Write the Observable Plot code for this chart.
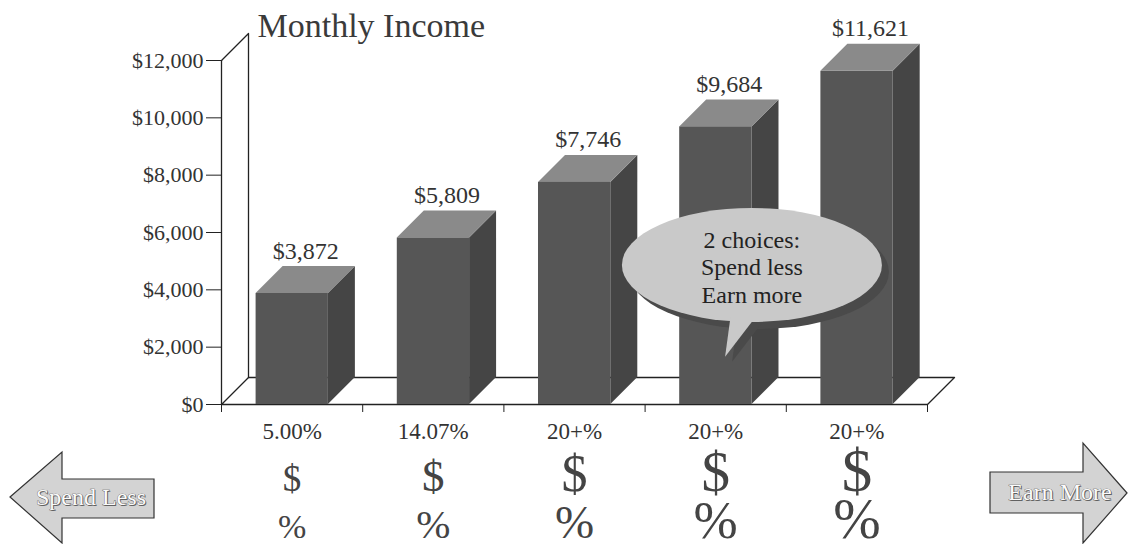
<!DOCTYPE html>
<html>
<head>
<meta charset="utf-8">
<script src="https://cdn.jsdelivr.net/npm/d3@7"></script>
<script src="https://cdn.jsdelivr.net/npm/@observablehq/plot@0.6"></script>
<style>
  html, body { margin: 0; padding: 0; background: #fff; }
  #chart svg { display: block; }
</style>
</head>
<body>
<div id="chart"></div>
<script>
// ---- data ----
const categories = ["5.00%", "14.07%", "20+%", "20+%", "20+%"];
const income = [3872, 5809, 7746, 9684, 11621];
const yTicks = [0, 2000, 4000, 6000, 8000, 10000, 12000];
const titleText = "Monthly Income";
const bubbleLines = ["2 choices:", "Spend less", "Earn more"];
const arrowLabels = ["Spend Less", "Earn More"];
const dollarRow = ["$", "$", "$", "$", "$"];
const percentRow = ["%", "%", "%", "%", "%"];

// ---- style constants ----
const W = 1128, H = 544;
const M = {left: 221, right: 201, top: 60, bottom: 140};
const yMax = 12000;
const depthPx = 27;
const bandPx = (W - M.left - M.right) / categories.length;
const DX = depthPx / bandPx;                       // depth in x units
const DY = depthPx * yMax / (H - M.top - M.bottom); // depth in y units
const barOffset = 0.245, barWidth = 0.512;
const dollarSizes = [37, 45, 52, 57, 61];
const percentSizes = [34, 41, 47, 53, 57];
const font = "'Liberation Serif', 'Times New Roman', serif";
const frontFill = "#565656", sideFill = "#454545", topFill = "#8a8a8a";
const ink = "#333";
const fmt = d3.format("$,");

const data = income.map((value, i) => ({i, cat: categories[i], value}));

const sideData = data.flatMap(d => [
  {i: d.i, x: d.i + barOffset + barWidth, y1: 0, y2: d.value},
  {i: d.i, x: d.i + barOffset + barWidth + DX, y1: DY, y2: d.value + DY}
]);
const topData = data.flatMap(d => [
  {i: d.i, y: d.value, x1: d.i + barOffset, x2: d.i + barOffset + barWidth},
  {i: d.i, y: d.value + DY, x1: d.i + barOffset + DX, x2: d.i + barOffset + barWidth + DX}
]);
const n = categories.length;
const floor = [
  {x: 0, y: 0}, {x: n, y: 0}, {x: n + DX, y: DY}, {x: DX, y: DY}, {x: 0, y: 0}
];
const wall = [{x: 0, y: yMax}, {x: DX, y: yMax + DY}, {x: DX, y: DY}];

// speech bubble anchored in data space (pointing at the 4th bar)
const bubbleAt = {x: 3.76, y: 4850};
const tipAt = {x: 3.57, y: 1650};

function bubbleMark(index, scales) {
  const cx = scales.x(bubbleAt.x), cy = scales.y(bubbleAt.y);
  const tx = scales.x(tipAt.x), ty = scales.y(tipAt.y);
  const rx = 130, ry = 57;
  const g = d3.create("svg:g");
  const tail = (ox, oy) =>
    `M${cx - 21 + ox},${cy + ry - 8 + oy} L${tx + ox},${ty + oy} L${cx + 6 + ox},${cy + ry - 8 + oy} Z`;
  const sh = 7;
  g.append("ellipse").attr("cx", cx + sh).attr("cy", cy + sh).attr("rx", rx).attr("ry", ry).attr("fill", "#4a4a4a");
  g.append("path").attr("d", tail(sh, sh - 2)).attr("fill", "#4a4a4a");
  g.append("ellipse").attr("cx", cx).attr("cy", cy).attr("rx", rx).attr("ry", ry).attr("fill", "#c9c9c9");
  g.append("path").attr("d", tail(0, 0)).attr("fill", "#c9c9c9");
  const t = g.append("text").attr("text-anchor", "middle").attr("font-family", font)
    .attr("font-size", 24).attr("fill", "#222");
  bubbleLines.forEach((line, k) => {
    t.append("tspan").attr("x", cx).attr("y", cy - 17 + k * 27.5).text(line);
  });
  return g.node();
}

function arrowMark(index, scales, values, dims) {
  const g = d3.create("svg:g");
  const w = dims.width;
  const shapes = [
    {label: arrowLabels[0], pts: [[10,497],[62,452],[62,479],[154,479],[154,518],[62,518],[62,543]], tx: 91, ty: 505},
    {label: arrowLabels[1], pts: [[w-1,493],[w-45,443],[w-45,472],[w-138,472],[w-138,513],[w-45,513],[w-45,543]], tx: w-68, ty: 500}
  ];
  for (const s of shapes) {
    g.append("path").attr("d", "M" + s.pts.join("L") + "Z")
      .attr("fill", "#d3d3d3").attr("stroke", "#333").attr("stroke-width", 1.2).attr("stroke-linejoin", "miter");
    g.append("text").attr("x", s.tx + 1).attr("y", s.ty + 1).attr("text-anchor", "middle")
      .attr("font-family", font).attr("font-size", 24).attr("fill", "#666").text(s.label);
    g.append("text").attr("x", s.tx).attr("y", s.ty).attr("text-anchor", "middle")
      .attr("font-family", font).attr("font-size", 24).attr("fill", "#fbfbfb")
      .attr("stroke", "#555").attr("stroke-width", 0.7).attr("paint-order", "stroke").text(s.label);
  }
  return g.node();
}

const chart = Plot.plot({
  width: W,
  height: H,
  marginLeft: M.left,
  marginRight: M.right,
  marginTop: M.top,
  marginBottom: M.bottom,
  x: {type: "linear", domain: [0, n]},
  y: {type: "linear", domain: [0, yMax]},
  style: {fontFamily: font, background: "#fff", color: ink, overflow: "visible"},
  marks: [
    // floor and back wall
    Plot.line(floor, {x: "x", y: "y", fill: "#fff", stroke: "#222", strokeWidth: 1.3}),
    Plot.line(wall, {x: "x", y: "y", stroke: "#222", strokeWidth: 1.3}),
    Plot.ruleX([0], {y1: 0, y2: yMax, stroke: "#222", strokeWidth: 1.3}),
    // 3D bars
    Plot.areaY(sideData, {x: "x", y1: "y1", y2: "y2", z: "i", fill: sideFill}),
    Plot.areaX(topData, {y: "y", x1: "x1", x2: "x2", z: "i", fill: topFill}),
    Plot.rect(data, {
      x1: d => d.i + barOffset, x2: d => d.i + barOffset + barWidth,
      y1: 0, y2: "value", fill: frontFill
    }),
    // value labels
    Plot.text(data, {
      x: d => d.i + barOffset + (barWidth + DX) / 2,
      y: d => d.value + DY,
      text: d => fmt(d.value),
      lineAnchor: "bottom", dy: -8, fontSize: 24, fill: ink
    }),
    // axes
    Plot.axisY({ticks: yTicks, tickSize: 15, tickPadding: 3, tickFormat: fmt, fontSize: 22, stroke: "#222", fill: ink}),
    Plot.axisX({ticks: d3.range(n + 1), tickSize: 8, tickFormat: () => "", stroke: "#222"}),
    Plot.axisX({ticks: d3.range(n).map(i => i + 0.5), tickSize: 0, tickPadding: 18,
      tickFormat: v => categories[Math.floor(v)], fontSize: 23, fill: ink}),
    // title
    Plot.text([titleText], {frameAnchor: "top-left", textAnchor: "start", lineAnchor: "bottom",
      dx: 36, dy: -24, fontSize: 34, fill: "#3a3a3a"}),
    // $ and % rows
    Plot.text(data, {x: d => d.i + 0.5, frameAnchor: "bottom", lineAnchor: "bottom", dy: 86,
      text: d => dollarRow[d.i], fontSize: d => dollarSizes[d.i], fill: "#444"}),
    Plot.text(data, {x: d => d.i + 0.5, frameAnchor: "bottom", lineAnchor: "bottom", dy: 133,
      text: d => percentRow[d.i], fontSize: d => percentSizes[d.i], fill: "#444"}),
    // annotations
    bubbleMark,
    arrowMark
  ]
});

document.getElementById("chart").append(chart);
</script>
</body>
</html>
